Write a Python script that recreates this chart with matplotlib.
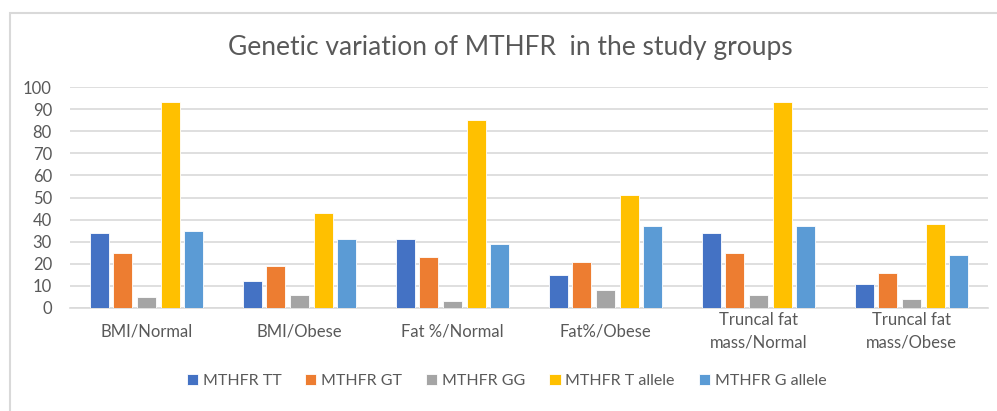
import matplotlib.pyplot as plt
import numpy as np
from matplotlib.patches import Rectangle

plt.rcParams['font.family'] = ['Lato', 'DejaVu Sans']

# Data
groups = ["BMI/Normal", "BMI/Obese", "Fat %/Normal", "Fat%/Obese",
          "Truncal fat\nmass/Normal", "Truncal fat\nmass/Obese"]
tt = [34, 12, 31, 15, 34, 11]
gt = [25, 19, 23, 21, 25, 16]
gg = [5, 6, 3, 8, 6, 4]
t_allele = [93, 43, 85, 51, 93, 38]
g_allele = [35, 31, 29, 37, 37, 24]

series = [tt, gt, gg, t_allele, g_allele]
names = ["MTHFR TT", "MTHFR GT", "MTHFR GG", "MTHFR T allele", "MTHFR G allele"]
colors = ["#4472C4", "#ED7D31", "#A5A5A5", "#FFC000", "#5B9BD5"]

fig = plt.figure(figsize=(9.97, 4.11), dpi=100)
#Chart frame (cropped at right and bottom)
fig.patches.append(Rectangle((10 / 997, -0.1), 1.2, 1 - 13 / 411 + 0.1,
                             transform=fig.transFigure, fill=False,
                             edgecolor="#D9D9D9", linewidth=1.5))

ax = fig.add_axes([70 / 997, 1 - 308 / 411, 918 / 997, 221 / 411])

x = np.arange(len(groups))
step = 0.155
width = 0.125
for i, (vals, name, c) in enumerate(zip(series, names, colors)):
    ax.bar(x + (i - 2) * step, vals, width, color=c, label=name,
           edgecolor="white", linewidth=0.6, zorder=3)

ax.set_xlim(-0.5, len(groups) - 0.5)
ax.set_ylim(0, 100)
ax.set_yticks(range(0, 101, 10))
ax.grid(axis="y", color="#D9D9D9", linewidth=1.2, zorder=0)
for s in ["top", "right", "left"]:
    ax.spines[s].set_visible(False)
ax.spines["bottom"].set_color("#D9D9D9")
ax.spines["bottom"].set_linewidth(1.2)
ax.tick_params(axis="both", length=0, colors="#595959", labelsize=12)
ax.tick_params(axis="x", pad=17)
ax.tick_params(axis="y", pad=13)
ax.set_xticks(x)
ax.set_xticklabels(groups, linespacing=1.5, va="center")

fig.text(0.512, 1 - 47 / 411, "Genetic variation of MTHFR  in the study groups",
         ha="center", va="center", fontsize=19, color="#595959")

fig.legend(loc="center", bbox_to_anchor=(0.508, 1 - 381 / 411), ncol=5,
           frameon=False, fontsize=11.5, handlelength=0.7, handleheight=0.7,
           handletextpad=0.3, columnspacing=1.5, labelcolor="#595959")

plt.savefig("out.png", dpi=100)
